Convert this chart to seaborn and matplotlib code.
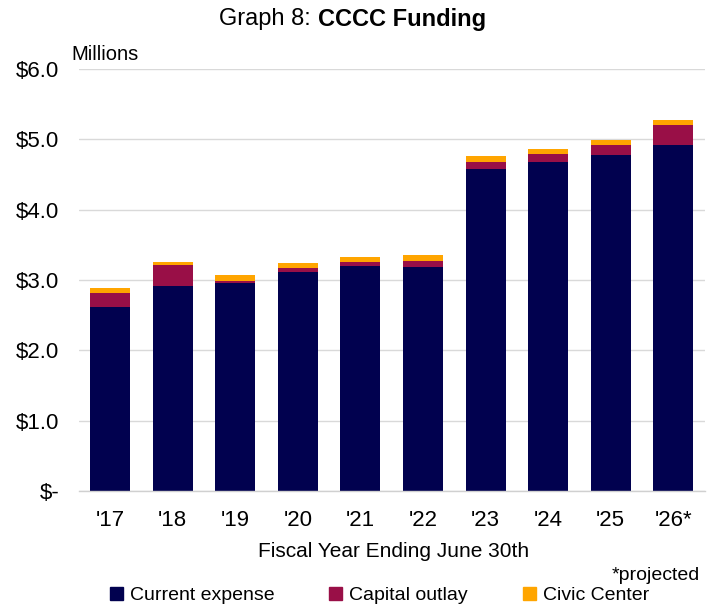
import matplotlib
matplotlib.use("Agg")
import matplotlib.pyplot as plt
import matplotlib.patches as mpatches
import seaborn as sns
import numpy as np
import pandas as pd

years = ["'17", "'18", "'19", "'20", "'21", "'22", "'23", "'24", "'25", "'26*"]
current_expense = [2.62, 2.92, 2.95, 3.12, 3.20, 3.19, 4.58, 4.68, 4.77, 4.92]
capital_outlay = [0.20, 0.29, 0.04, 0.05, 0.06, 0.08, 0.10, 0.11, 0.15, 0.29]
civic_center = [0.06, 0.05, 0.08, 0.07, 0.07, 0.08, 0.08, 0.07, 0.07, 0.07]
series_names = ["Current expense", "Capital outlay", "Civic Center"]
y_ticks = [0, 1, 2, 3, 4, 5, 6]
y_tick_labels = ["$-", "$1.0", "$2.0", "$3.0", "$4.0", "$5.0", "$6.0"]

colors = ["#01014F", "#990F47", "#FFA500"]

sns.set_style("white")
plt.rcParams['font.family'] = ['Liberation Sans', 'DejaVu Sans']
plt.rcParams['text.color'] = 'black'
plt.rcParams['xtick.color'] = 'black'
plt.rcParams['ytick.color'] = 'black'

df = pd.DataFrame({"year": years,
                   "c1": np.array(current_expense),
                   "c2": np.array(current_expense) + np.array(capital_outlay),
                   "c3": np.array(current_expense) + np.array(capital_outlay) + np.array(civic_center)})

fig = plt.figure(figsize=(7.11, 6.09), dpi=100)
ax = fig.add_axes([0.111, 0.1938, 0.88, 0.693])

for col, c in zip(["c3", "c2", "c1"], colors[::-1]):
    sns.barplot(data=df, x="year", y=col, color=c, width=0.64, ax=ax,
                saturation=1, edgecolor="none", linewidth=0)

ax.set_ylim(0, 6)
ax.set_xlim(-0.5, len(years) - 0.5)
ax.set_yticks(y_ticks)
ax.set_yticklabels(y_tick_labels, fontsize=16)
ax.yaxis.grid(True, color="#D9D9D9", linewidth=1)
ax.set_axisbelow(True)
for s in ["top", "right", "left"]:
    ax.spines[s].set_visible(False)
ax.spines["bottom"].set_color("#D0D0D0")
ax.spines["bottom"].set_linewidth(1)
ax.tick_params(axis="y", length=0, pad=14)
ax.set_xticks(range(len(years)))
ax.set_xticklabels(years, fontsize=16)
ax.tick_params(axis="x", length=0, pad=14)
ax.set_xticks(np.arange(-0.5, len(years), 1), minor=True)
ax.tick_params(axis="x", which="minor", length=7, color="#D0D0D0", width=1)
ax.set_xlabel("")
ax.set_ylabel("")

fig.text(0.101, 0.910, "Millions", fontsize=14.5, ha="left", va="center")
fig.text(0.553, 0.094, "Fiscal Year Ending June 30th", fontsize=15, ha="center", va="center")
fig.text(0.923, 0.055, "*projected", fontsize=14, ha="center", va="center")

fig.text(0.447, 0.968, "Graph 8: ", fontsize=17, ha="right", va="center")
fig.text(0.447, 0.968, "CCCC Funding", fontsize=17, ha="left", va="center", fontweight="bold")

x_positions = [0.1547, 0.4627, 0.7356]
for c, n, xp in zip(colors, series_names, x_positions):
    fig.legend(handles=[mpatches.Patch(color=c, label=n)], loc="center left",
               bbox_to_anchor=(xp, 0.022), frameon=False, fontsize=14,
               handlelength=0.65, handleheight=0.65, handletextpad=0.4,
               borderpad=0, borderaxespad=0)

fig.savefig("out.png", dpi=100)
